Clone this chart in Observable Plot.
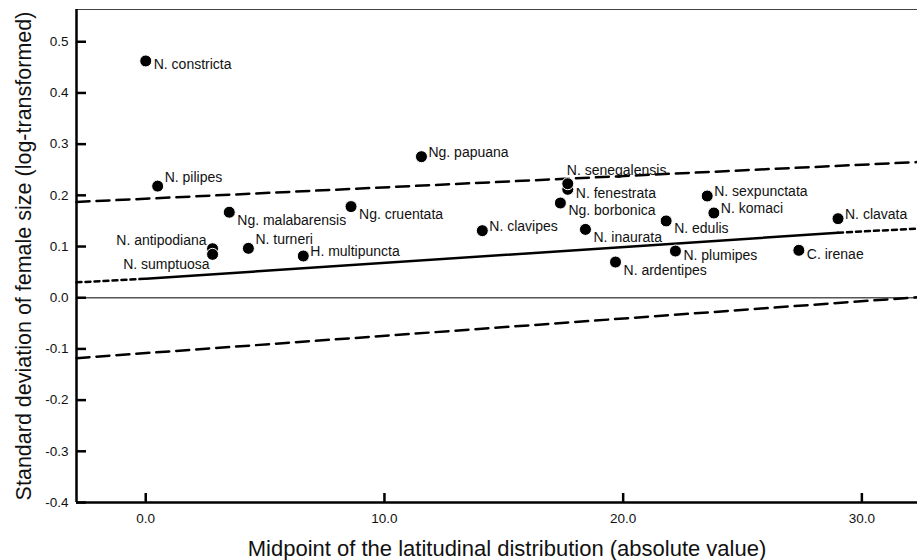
<!DOCTYPE html>
<html>
<head>
<meta charset="utf-8">
<script src="https://cdn.jsdelivr.net/npm/d3@7"></script>
<script src="https://cdn.jsdelivr.net/npm/@observablehq/plot@0.6"></script>
<style>
  html, body { margin: 0; padding: 0; background: #fff; }
  #chart svg { display: block; }
</style>
</head>
<body>
<div id="chart"></div>
<script>
// ---- data ----
const species = [
  "N. constricta", "N. pilipes", "Ng. malabarensis", "Ng. cruentata",
  "N. antipodiana", "N. sumptuosa", "N. turneri", "H. multipuncta",
  "N. clavipes", "Ng. papuana", "N. fenestrata", "N. senegalensis",
  "Ng. borbonica", "N. inaurata", "N. edulis", "N. sexpunctata",
  "N. komaci", "N. clavata", "N. plumipes", "N. ardentipes", "C. irenae"
];
const latMidpoint = [
  0.0, 0.5, 3.5, 8.6,
  2.8, 2.8, 4.3, 6.6,
  14.1, 11.55, 17.68, 17.68,
  17.37, 18.42, 21.8, 23.52,
  23.8, 29.0, 22.19, 19.68, 27.36
];
const sdFemaleSize = [
  0.4625, 0.218, 0.167, 0.178,
  0.0957, 0.0847, 0.0965, 0.0815,
  0.131, 0.2755, 0.2117, 0.2227,
  0.185, 0.1335, 0.150, 0.1987,
  0.1655, 0.1544, 0.0912, 0.0697, 0.0926
];
// label placement code for each species (see labelOffsets below)
const labelPlacement = [
  "rl", "ur", "dr", "dr",
  "ul", "dl", "ur", "r",
  "r", "r", "rl", "u",
  "dr", "dr", "dr", "r",
  "r", "r", "rl", "dr", "rl"
];

// regression line (solid over data range) and its extrapolations (dotted)
const fitX = [0, 29.0];
const fitY = [0.037, 0.127];
const extLeftX = [-2.9, 0];
const extLeftY = [0.030, 0.037];
const extRightX = [29.0, 32.33];
const extRightY = [0.127, 0.135];
// upper and lower dashed bounds
const boundX = [-2.9, 32.33];
const upperY = [0.187, 0.265];
const lowerY = [-0.118, 0.001];

const xTicks = [0, 10, 20, 30];
const yTicks = [-0.4, -0.3, -0.2, -0.1, 0.0, 0.1, 0.2, 0.3, 0.4, 0.5];
const xDomain = [-2.9, 32.33];
const yDomain = [-0.4, 0.563];

const xTitle = "Midpoint of the latitudinal distribution (absolute value)";
const yTitle = "Standard deviation of female size (log-transformed)";

// ---- build tables ----
const labelOffsets = {
  r:  {dx: 7, dy: -4, anchor: "start"},
  rl: {dx: 8, dy: 4, anchor: "start"},
  ur: {dx: 7, dy: -9, anchor: "start"},
  dr: {dx: 8, dy: 8, anchor: "start"},
  ul: {dx: -6, dy: -8, anchor: "end"},
  dl: {dx: -3, dy: 10, anchor: "end"},
  u:  {dx: -1, dy: -13, anchor: "start"}
};
const points = species.map((name, i) => ({
  name, x: latMidpoint[i], y: sdFemaleSize[i], pos: labelPlacement[i]
}));
const toLine = (xs, ys) => xs.map((x, i) => ({x, y: ys[i]}));

const font = "'Liberation Sans', Arial, sans-serif";
const W = 917, H = 560, mL = 76, mR = 0, mT = 9, mB = 58;
const frameW = W - mL - mR, frameH = H - mT - mB;

const labelMarks = Object.keys(labelOffsets).map(code => {
  const o = labelOffsets[code];
  return Plot.text(points.filter(d => d.pos === code), {
    x: "x", y: "y", text: "name",
    dx: o.dx, dy: o.dy, textAnchor: o.anchor, lineAnchor: "middle",
    fontSize: 14, fill: "#111"
  });
});

const chart = Plot.plot({
  width: W,
  height: H,
  marginLeft: mL,
  marginRight: mR,
  marginTop: mT,
  marginBottom: mB,
  style: {fontFamily: font, fontSize: "13.5px", background: "#fff", color: "#111"},
  x: {domain: xDomain, label: null, axis: null},
  y: {domain: yDomain, label: null, axis: null},
  marks: [
    // frame pieces
    Plot.ruleY([yDomain[1]], {stroke: "#444", strokeWidth: 1}),
    Plot.ruleY([0], {stroke: "#555", strokeWidth: 1.5}),
    // bounds and fit
    Plot.line(toLine(boundX, upperY), {x: "x", y: "y", stroke: "#000", strokeWidth: 2.5, strokeDasharray: "13,7"}),
    Plot.line(toLine(boundX, lowerY), {x: "x", y: "y", stroke: "#000", strokeWidth: 2.5, strokeDasharray: "13,7"}),
    Plot.line(toLine(extLeftX, extLeftY), {x: "x", y: "y", stroke: "#000", strokeWidth: 2.5, strokeDasharray: "5,4"}),
    Plot.line(toLine(extRightX, extRightY), {x: "x", y: "y", stroke: "#000", strokeWidth: 2.5, strokeDasharray: "5,4"}),
    Plot.line(toLine(fitX, fitY), {x: "x", y: "y", stroke: "#000", strokeWidth: 2.5}),
    // inward ticks
    Plot.tickX(xTicks, {x: d => d, insetTop: frameH - 9, stroke: "#000", strokeWidth: 2.5}),
    Plot.tickY(yTicks, {y: d => d, insetRight: frameW - 10, stroke: "#000", strokeWidth: 2.5}),
    // tick labels
    Plot.text(xTicks, {x: d => d, frameAnchor: "bottom", lineAnchor: "top", dy: 11, text: d => d.toFixed(1), fontSize: 13.5, fill: "#111"}),
    Plot.text(yTicks, {y: d => d, frameAnchor: "left", textAnchor: "end", lineAnchor: "middle", dx: -8, text: d => d.toFixed(1), fontSize: 13.5, fill: "#111"}),
    // axis lines
    Plot.ruleX([xDomain[0]], {stroke: "#000", strokeWidth: 2.5}),
    Plot.ruleY([yDomain[0]], {stroke: "#000", strokeWidth: 2.5}),
    // points
    Plot.dot(points, {x: "x", y: "y", r: 6, fill: "#000", stroke: "#fff", strokeWidth: 1}),
    ...labelMarks,
    // axis titles
    Plot.text([xTitle], {frameAnchor: "bottom", lineAnchor: "middle", textAnchor: "middle", dy: 46, dx: 10, fontSize: 22, fill: "#111"}),
    Plot.text([yTitle], {frameAnchor: "left", textAnchor: "middle", lineAnchor: "middle", dx: -52, rotate: -90, fontSize: 21.5, fill: "#111"})
  ]
});
document.getElementById("chart").appendChild(chart);
</script>
</body>
</html>
